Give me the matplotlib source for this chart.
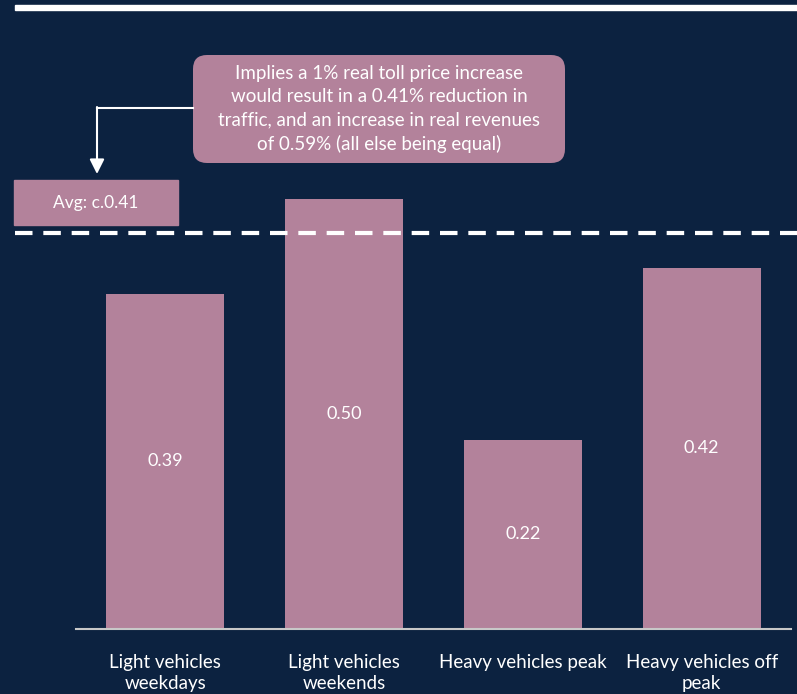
import matplotlib
matplotlib.use("Agg")
import matplotlib.pyplot as plt
from matplotlib.patches import FancyBboxPatch, Rectangle

plt.rcParams["font.family"] = ["Lato", "DejaVu Sans"]

BG = "#0c2240"
BAR = "#b3829b"

categories = [
    "Light vehicles\nweekdays",
    "Light vehicles\nweekends",
    "Heavy vehicles peak",
    "Heavy vehicles off\npeak",
]
elasticity = [0.39, 0.50, 0.22, 0.42]
avg_label = "Avg: c.0.41"
callout = ("Implies a 1% real toll price increase\n"
           "would result in a 0.41% reduction in\n"
           "traffic, and an increase in real revenues\n"
           "of 0.59% (all else being equal)")

W, H = 797, 694
fig = plt.figure(figsize=(W / 100, H / 100), dpi=100, facecolor=BG)

# main bar axes, baseline at y=629px
ax = fig.add_axes([76 / W, (H - 629) / H, (791 - 76) / W, 629 / H])
ax.set_facecolor(BG)
x = range(len(categories))
ax.bar(x, elasticity, width=0.66, color=BAR, zorder=2)
for i, v in enumerate(elasticity):
    ax.text(i, v / 2, f"{v:.2f}", ha="center", va="center",
            color="white", fontsize=13)
ax.set_xlim(-0.5, len(categories) - 0.5)
ax.set_ylim(0, 629 / 860)
ax.set_xticks(list(x))
ax.set_xticklabels(categories, color="white", fontsize=13.5, linespacing=1.3)
ax.tick_params(axis="x", length=0, pad=18)
ax.set_yticks([])
for s in ["top", "right", "left"]:
    ax.spines[s].set_visible(False)
ax.spines["bottom"].set_color("#c8c8c8")
ax.spines["bottom"].set_linewidth(1.5)

# overlay in pixel coords for annotations
ov = fig.add_axes([0, 0, 1, 1], zorder=5)
ov.set_xlim(0, W)
ov.set_ylim(H, 0)
ov.axis("off")
ov.patch.set_alpha(0)

ov.add_patch(Rectangle((15, 5), W - 15, 5, color="white"))
ov.plot([15, W], [233, 233], color="white", lw=3, dashes=(4.2, 2.6))

ov.add_patch(Rectangle((14, 180), 164, 45, color=BAR))
ov.text(96, 203, avg_label, ha="center", va="center", color="white", fontsize=12.5)

ov.add_patch(FancyBboxPatch((193, 55), 372, 108,
                            boxstyle="round,pad=0,rounding_size=14",
                            facecolor=BAR, edgecolor="none"))
ov.text(379, 109, callout, ha="center", va="center", color="white",
        fontsize=13.5, linespacing=1.45)

ov.plot([193, 97], [108, 108], color="white", lw=1.5)
ov.annotate("", xy=(97, 174), xytext=(97, 107),
            arrowprops=dict(arrowstyle="-|>", color="white", lw=1.5,
                            mutation_scale=22, shrinkA=0, shrinkB=0))

fig.savefig("out.png", dpi=100, facecolor=BG)
